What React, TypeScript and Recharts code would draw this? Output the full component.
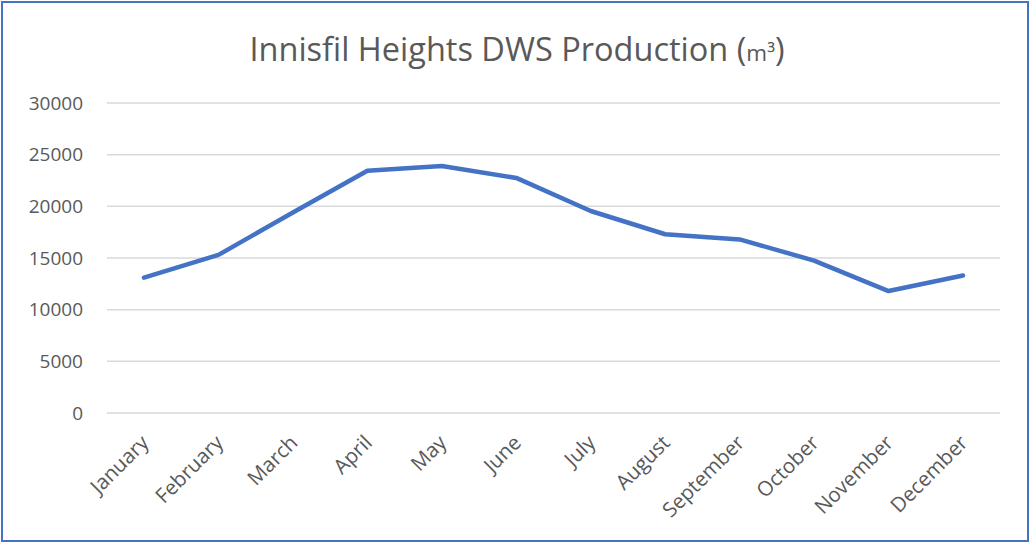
import React from 'react';
import { LineChart, Line, XAxis, YAxis, CartesianGrid } from 'recharts';

const months = ['January', 'February', 'March', 'April', 'May', 'June', 'July', 'August', 'September', 'October', 'November', 'December'];
const production = [13100, 15300, 19400, 23450, 23900, 22750, 19550, 17300, 16800, 14750, 11800, 13300];
const yTicks = [0, 5000, 10000, 15000, 20000, 25000, 30000];

const data = months.map((m, i) => ({ month: m, value: production[i] }));

const FONT = '"Open Sans", sans-serif';
const TEXT = '#595959';

const XTick = (props: any) => {
  const { x, y, payload } = props;
  return (
    <g transform={`translate(${x + 6},${y + 23})`}>
      <text x={0} y={0} textAnchor="end" transform="rotate(-45)" fill={TEXT} fontFamily={FONT} fontSize={20.5}>
        {payload.value}
      </text>
    </g>
  );
};

export default function App() {
  return (
    <div style={{ position: 'absolute', left: 0, top: 0, width: 1030, height: 544, background: '#fff' }}>
      <LineChart width={1030} height={544} data={data} margin={{ top: 103, right: 30, left: 0, bottom: 0 }}>
        <CartesianGrid horizontal vertical={false} stroke="#d9d9d9" strokeWidth={1.5} />
        <XAxis
          dataKey="month"
          height={131}
          axisLine={false}
          tickLine={false}
          interval={0}
          padding={{ left: 37, right: 37 }}
          tick={<XTick />}
        />
        <YAxis
          width={107}
          domain={[0, 30000]}
          ticks={yTicks}
          axisLine={false}
          tickLine={false}
          tickMargin={18}
          tick={{ fill: TEXT, fontFamily: FONT, fontSize: 19 }}
        />
        <Line
          type="linear"
          dataKey="value"
          stroke="#4472C4"
          strokeWidth={4.5}
          strokeLinecap="round"
          strokeLinejoin="round"
          dot={false}
          activeDot={false}
          isAnimationActive={false}
        />
      </LineChart>
      <svg width={1030} height={544} style={{ position: 'absolute', left: 0, top: 0, pointerEvents: 'none' }}>
        <text x={517} y={61} textAnchor="middle" fill={TEXT} fontFamily={FONT} fontSize={32.5}>
          Innisfil Heights DWS Production (<tspan fontSize={22.5}>m³</tspan>)
        </text>
        <rect x={2} y={2} width={1026} height={539} fill="none" stroke="#4472C4" strokeWidth={2} />
      </svg>
    </div>
  );
}
